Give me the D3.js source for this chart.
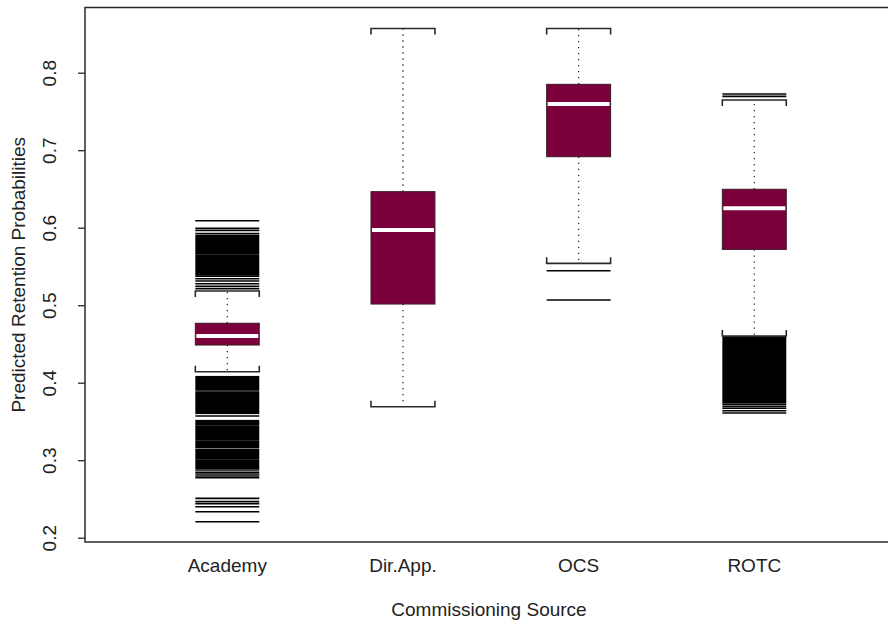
<!DOCTYPE html>
<html>
<head>
<meta charset="utf-8">
<script src="https://cdn.jsdelivr.net/npm/d3@7"></script>
<style>
  body { margin: 0; background: #fff; }
  text { font-family: "Liberation Sans", Arial, sans-serif; fill: #222; }
</style>
</head>
<body>
<svg id="chart" width="888" height="624"></svg>
<script>
// box statistics per commissioning source
const categories = ["Academy", "Dir.App.", "OCS", "ROTC"];
const q1 = [0.4486, 0.5015, 0.6916, 0.572];
const medians = [0.4603, 0.597, 0.7596, 0.625];
const q3 = [0.4767, 0.6465, 0.785, 0.6496];
const whiskerLo = [0.4142, 0.369, 0.554, 0.4603];
const whiskerHi = [0.5183, 0.857, 0.857, 0.7648];

// single outliers (drawn as horizontal dashes)
const outliers = [
  [0.609, 0.5992, 0.5966, 0.5923, 0.5373, 0.5342, 0.5312, 0.5277, 0.5243, 0.5213,
   0.357, 0.2874, 0.2844, 0.2822, 0.2796, 0.2774,
   0.2508, 0.2465, 0.2439, 0.24, 0.2335, 0.2206],
  [],
  [0.5445, 0.5067],
  [0.7725, 0.7695, 0.3721, 0.3695, 0.367, 0.3639, 0.3609]
];

// runs where outliers are so dense they merge into a solid block [category, lo, hi]
const outlierRuns = [
  [0, 0.567, 0.5897], [0, 0.539, 0.5648],
  [0, 0.3906, 0.4077], [0, 0.3786, 0.388], [0, 0.3605, 0.3768],
  [0, 0.3454, 0.351], [0, 0.327, 0.3432], [0, 0.3166, 0.3248],
  [0, 0.3025, 0.314], [0, 0.2896, 0.3003],
  [3, 0.3742, 0.4586]
];

const yTicks = [0.2, 0.3, 0.4, 0.5, 0.6, 0.7, 0.8];

const svg = d3.select("#chart");
const frame = {left: 85, top: 7.5, right: 889, bottom: 542};

const x = d3.scaleLinear([1, 4], [227.3, 754.3]);
const y = d3.scaleLinear([0.2, 0.8], [537.7, 72.7]);
const boxW = 0.364;
const halfW = (x(1 + boxW / 2) - x(1 - boxW / 2)) / 2;
const fill = "#7c003c";
const ink = "#2a2a2a";

const yAxis = g => g
    .attr("transform", `translate(${frame.left},0)`)
    .call(d3.axisLeft(y).tickValues(yTicks).tickSize(7).tickFormat(d3.format(".1f")))
    .call(g => g.select(".domain").remove())
    .call(g => g.selectAll(".tick line").attr("stroke", ink).attr("stroke-width", 1.3))
    .call(g => g.selectAll(".tick text")
        .attr("font-size", 19)
        .attr("font-family", "Liberation Sans, Arial, sans-serif")
        .attr("fill", "#222")
        .attr("text-anchor", "middle")
        .attr("dy", null)
        .attr("transform", d => `translate(${55.5 - frame.left},${y(d)}) rotate(-90)`)
        .attr("x", 0).attr("y", 0));

svg.append("g").call(yAxis);
// axisLeft puts the tick translate on the group; undo it for rotated labels
svg.selectAll(".tick text").attr("transform", `translate(${55.5 - frame.left},0) rotate(-90)`);

const groups = svg.append("g")
  .selectAll("g")
  .data(categories)
  .join("g");

// whiskers (dotted)
groups.append("line")
    .attr("x1", (d, i) => x(i + 1)).attr("x2", (d, i) => x(i + 1))
    .attr("y1", (d, i) => y(q3[i])).attr("y2", (d, i) => y(whiskerHi[i]))
    .attr("stroke", ink).attr("stroke-width", 1.3).attr("stroke-dasharray", "1.3,4.7");
groups.append("line")
    .attr("x1", (d, i) => x(i + 1)).attr("x2", (d, i) => x(i + 1))
    .attr("y1", (d, i) => y(q1[i])).attr("y2", (d, i) => y(whiskerLo[i]))
    .attr("stroke", ink).attr("stroke-width", 1.3).attr("stroke-dasharray", "1.3,4.7");

// staples as brackets, ends pointing towards the box
const staple = (i, v, dir) => {
  const cx = x(i + 1), yy = y(v);
  return `M${cx - halfW},${yy + dir * 6}V${yy}H${cx + halfW}V${yy + dir * 6}`;
};
groups.append("path")
    .attr("d", (d, i) => staple(i, whiskerHi[i], 1))
    .attr("fill", "none").attr("stroke", ink).attr("stroke-width", 1.6);
groups.append("path")
    .attr("d", (d, i) => staple(i, whiskerLo[i], -1))
    .attr("fill", "none").attr("stroke", ink).attr("stroke-width", 1.6);

// boxes
groups.append("rect")
    .attr("x", (d, i) => x(i + 1) - halfW)
    .attr("width", halfW * 2)
    .attr("y", (d, i) => y(q3[i]))
    .attr("height", (d, i) => y(q1[i]) - y(q3[i]))
    .attr("fill", fill).attr("stroke", "#3a1a26").attr("stroke-width", 1);

groups.append("line")
    .attr("x1", (d, i) => x(i + 1) - halfW + 1).attr("x2", (d, i) => x(i + 1) + halfW - 1)
    .attr("y1", (d, i) => y(medians[i])).attr("y2", (d, i) => y(medians[i]))
    .attr("stroke", "#fff").attr("stroke-width", 4);

// outliers
groups.selectAll("line.out")
  .data((d, i) => outliers[i].map(v => ({i, v})))
  .join("line")
    .attr("class", "out")
    .attr("x1", d => x(d.i + 1) - halfW).attr("x2", d => x(d.i + 1) + halfW)
    .attr("y1", d => y(d.v)).attr("y2", d => y(d.v))
    .attr("stroke", "#000").attr("stroke-width", 1.6);

svg.append("g")
  .selectAll("rect")
  .data(outlierRuns)
  .join("rect")
    .attr("x", d => x(d[0] + 1) - halfW)
    .attr("width", halfW * 2)
    .attr("y", d => y(d[2]) - 0.8)
    .attr("height", d => y(d[1]) - y(d[2]) + 1.6)
    .attr("fill", "#000");

// frame
svg.append("rect")
    .attr("x", frame.left).attr("y", frame.top)
    .attr("width", frame.right - frame.left).attr("height", frame.bottom - frame.top)
    .attr("fill", "none").attr("stroke", ink).attr("stroke-width", 1.5);

// category labels, no tick marks
svg.append("g")
  .selectAll("text")
  .data(categories)
  .join("text")
    .attr("x", (d, i) => x(i + 1))
    .attr("y", 572)
    .attr("text-anchor", "middle")
    .attr("font-size", 19)
    .text(d => d);

svg.append("text")
    .attr("x", 489).attr("y", 616)
    .attr("text-anchor", "middle")
    .attr("font-size", 19)
    .text("Commissioning Source");

svg.append("text")
    .attr("transform", `translate(25,${(frame.top + frame.bottom) / 2}) rotate(-90)`)
    .attr("text-anchor", "middle")
    .attr("font-size", 19)
    .text("Predicted Retention Probabilities");
</script>
</body>
</html>
